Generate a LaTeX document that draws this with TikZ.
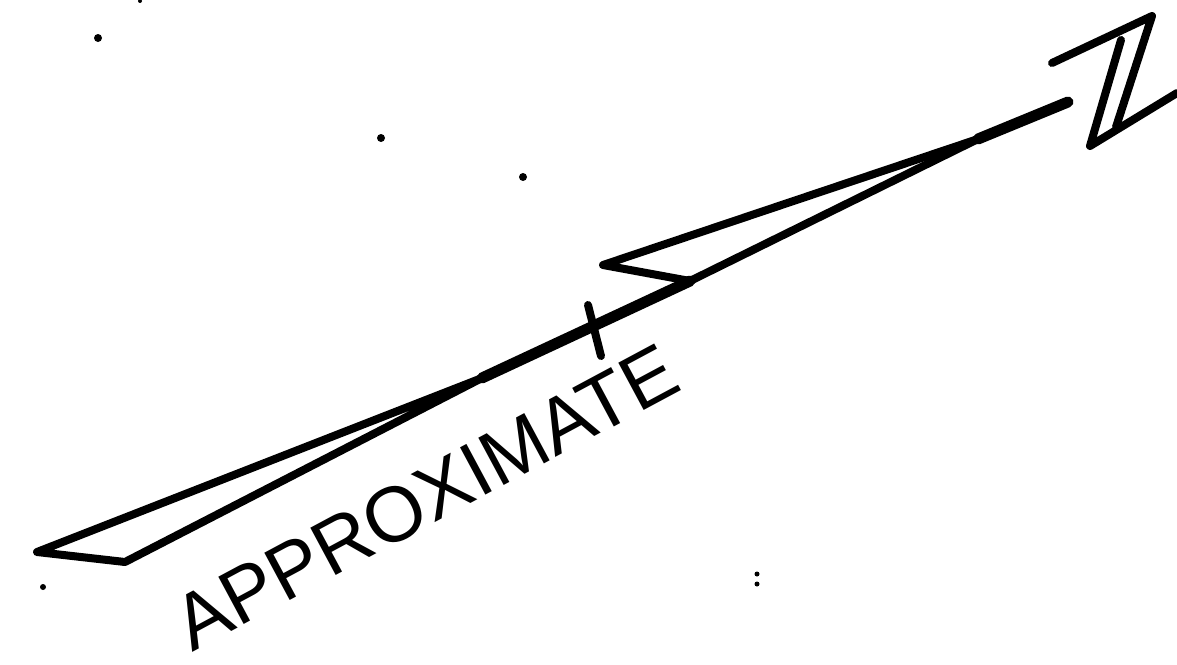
\documentclass[tikz,border=0pt]{standalone}
\usepackage{fontspec}
\setmainfont{Liberation Sans}
\usetikzlibrary{calc}
\definecolor{ink}{RGB}{0,0,0}

\tikzset{
  trait/.style={draw=ink, line width=4pt, line cap=round, line join=round},
  gras/.style={draw=ink, line width=5.5pt, line cap=round, line join=round},
  tache/.style={fill=ink},
}

\begin{document}
\begin{tikzpicture}[x=0.5pt, y=-0.5pt]
        \useasboundingbox (0,0) rectangle (1177,664);

        % points de la fleche
        \coordinate (tailtip)   at (37,552);
        \coordinate (tailfoot)  at (125,562);
        \coordinate (tailjoin)  at (482,378);
        \coordinate (notchfoot) at (690,281);
        \coordinate (barb)      at (603,265);
        \coordinate (headjoin)  at (978,139);
        \coordinate (tip)       at (1068,102);

        % empennage et tige
        \draw[trait] (tailjoin) -- (tailtip) -- (tailfoot) -- (tailjoin);
        \draw[gras] (tailjoin) -- (notchfoot);

        % pointe
        \draw[trait] (notchfoot) -- (barb) -- (headjoin);
        \draw[trait] (notchfoot) -- (headjoin);
        \draw[gras] (headjoin) -- (tip);

        % lettre N
        \coordinate (ntop)   at (1052,63);
        \coordinate (nright) at (1152,16);
        \coordinate (nmid)   at (1116,127);
        \coordinate (ninner) at (1121,40);
        \coordinate (nlow)   at (1090,146);
        \coordinate (nend)   at (1177,93);
        \draw[trait] (ntop) -- (nright) -- (nmid);
        \draw[trait] (ninner) -- (nlow) -- (nend);

        % texte
        \node[rotate=28.2, inner sep=0pt, text=ink, font=\fontsize{39}{40}\selectfont] (approx) at (426,497) {APPROXIMATE};
        \coordinate (ttop) at (588,305);
        \coordinate (tbot) at (601,356);
        \draw[trait] (ttop) -- (tbot);

        % taches
        \foreach \px/\py/\r in {98/38/4, 381/138/4, 523/177/4, 140/1/2, 43/587/3, 757/574/2.5, 757/584/2.5} {
          \fill[tache] (\px,\py) circle[radius=\r];
        }
      \end{tikzpicture}
\end{document}
